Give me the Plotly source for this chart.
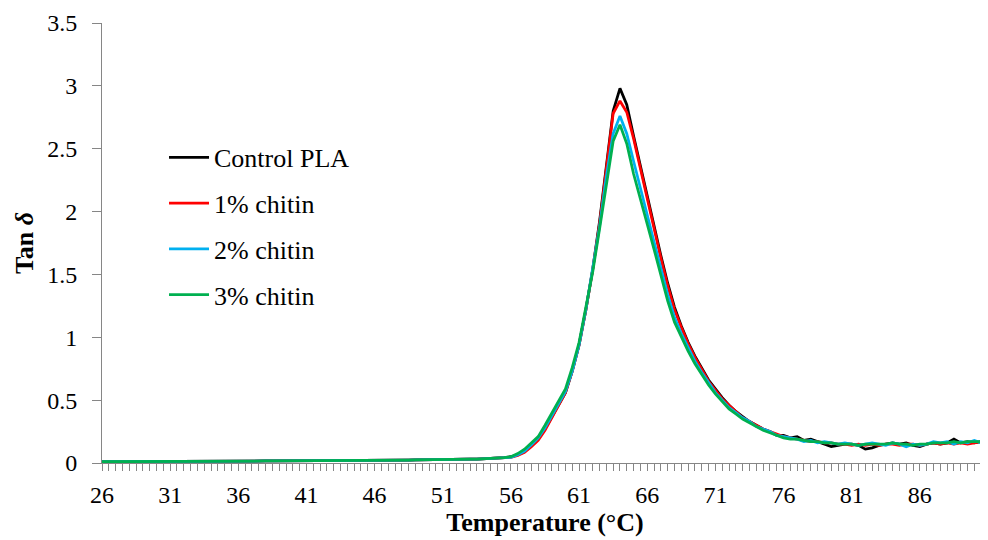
import plotly.graph_objects as go

# ==========================================
# DATA
# ==========================================

# temperature steps (°C), one reading every 0.5 degree
temperature = [
    26.0, 26.5, 27.0, 27.5, 28.0, 28.5, 29.0, 29.5, 30.0, 30.5,
    31.0, 31.5, 32.0, 32.5, 33.0, 33.5, 34.0, 34.5, 35.0, 35.5,
    36.0, 36.5, 37.0, 37.5, 38.0, 38.5, 39.0, 39.5, 40.0, 40.5,
    41.0, 41.5, 42.0, 42.5, 43.0, 43.5, 44.0, 44.5, 45.0, 45.5,
    46.0, 46.5, 47.0, 47.5, 48.0, 48.5, 49.0, 49.5, 50.0, 50.5,
    51.0, 51.5, 52.0, 52.5, 53.0, 53.5, 54.0, 54.5, 55.0, 55.5,
    56.0, 56.5, 57.0, 57.5, 58.0, 58.5, 59.0, 59.5, 60.0, 60.5,
    61.0, 61.5, 62.0, 62.5, 63.0, 63.5, 64.0, 64.5, 65.0, 65.5,
    66.0, 66.5, 67.0, 67.5, 68.0, 68.5, 69.0, 69.5, 70.0, 70.5,
    71.0, 71.5, 72.0, 72.5, 73.0, 73.5, 74.0, 74.5, 75.0, 75.5,
    76.0, 76.5, 77.0, 77.5, 78.0, 78.5, 79.0, 79.5, 80.0, 80.5,
    81.0, 81.5, 82.0, 82.5, 83.0, 83.5, 84.0, 84.5, 85.0, 85.5,
    86.0, 86.5, 87.0, 87.5, 88.0, 88.5, 89.0, 89.5, 90.0, 90.5,
    91.0,
]

# 26 - 55.5 °C, the four samples overlap here
glassy_baseline = [
    0.010, 0.010, 0.011, 0.011, 0.011, 0.012, 0.012, 0.012, 0.012, 0.013,
    0.013, 0.013, 0.013, 0.014, 0.014, 0.014, 0.014, 0.015, 0.015, 0.015,
    0.015, 0.016, 0.016, 0.016, 0.016, 0.017, 0.017, 0.017, 0.018, 0.018,
    0.018, 0.018, 0.019, 0.019, 0.019, 0.020, 0.020, 0.020, 0.021, 0.021,
    0.021, 0.022, 0.022, 0.022, 0.023, 0.023, 0.024, 0.024, 0.025, 0.025,
    0.026, 0.027, 0.028, 0.029, 0.030, 0.031, 0.033, 0.035, 0.038, 0.042,
]

# 56 - 91 °C
control_pla = [
    0.05, 0.065, 0.09, 0.14, 0.19, 0.27, 0.37, 0.46, 0.56, 0.73,
    0.94, 1.22, 1.54, 1.92, 2.38, 2.80, 2.98, 2.85, 2.60, 2.36,
    2.12, 1.88, 1.65, 1.43, 1.24, 1.09, 0.96, 0.85, 0.75, 0.66,
    0.59, 0.52, 0.46, 0.41, 0.37, 0.33, 0.30, 0.27, 0.25, 0.22,
    0.22, 0.20, 0.21, 0.18, 0.19, 0.17, 0.15, 0.13, 0.14, 0.15,
    0.15, 0.14, 0.11, 0.12, 0.14, 0.15, 0.16, 0.15, 0.16, 0.14,
    0.13, 0.15, 0.16, 0.15, 0.16, 0.19, 0.16, 0.17, 0.16, 0.17,
    0.18,
]

chitin_1 = [
    0.045, 0.06, 0.085, 0.13, 0.18, 0.26, 0.36, 0.45, 0.56, 0.73,
    0.94, 1.22, 1.54, 1.90, 2.34, 2.78, 2.88, 2.79, 2.58, 2.34,
    2.10, 1.86, 1.63, 1.41, 1.22, 1.08, 0.95, 0.84, 0.74, 0.65,
    0.58, 0.51, 0.46, 0.41, 0.36, 0.33, 0.30, 0.27, 0.25, 0.23,
    0.21, 0.20, 0.19, 0.18, 0.17, 0.17, 0.16, 0.16, 0.15, 0.15,
    0.14, 0.15, 0.14, 0.15, 0.14, 0.15, 0.15, 0.14, 0.15, 0.15,
    0.14, 0.15, 0.16, 0.15, 0.16, 0.15, 0.16, 0.15, 0.16, 0.17,
    0.18,
]

chitin_2 = [
    0.045, 0.065, 0.095, 0.145, 0.20, 0.28, 0.38, 0.47, 0.57, 0.73,
    0.94, 1.22, 1.54, 1.88, 2.28, 2.62, 2.76, 2.62, 2.40, 2.18,
    1.97, 1.76, 1.55, 1.34, 1.16, 1.03, 0.92, 0.81, 0.72, 0.64,
    0.56, 0.50, 0.44, 0.40, 0.36, 0.33, 0.29, 0.27, 0.25, 0.22,
    0.21, 0.20, 0.19, 0.17, 0.18, 0.16, 0.17, 0.16, 0.15, 0.16,
    0.15, 0.14, 0.15, 0.16, 0.15, 0.14, 0.16, 0.15, 0.13, 0.15,
    0.14, 0.15, 0.17, 0.16, 0.17, 0.15, 0.17, 0.16, 0.18, 0.16,
    0.17,
]

chitin_3 = [
    0.05, 0.075, 0.11, 0.16, 0.21, 0.30, 0.40, 0.49, 0.59, 0.76,
    0.96, 1.24, 1.52, 1.86, 2.20, 2.56, 2.69, 2.54, 2.30, 2.09,
    1.90, 1.70, 1.50, 1.29, 1.12, 1.00, 0.89, 0.79, 0.70, 0.62,
    0.55, 0.49, 0.43, 0.39, 0.35, 0.32, 0.29, 0.26, 0.24, 0.22,
    0.20, 0.19, 0.19, 0.18, 0.17, 0.17, 0.16, 0.16, 0.15, 0.15,
    0.15, 0.14, 0.15, 0.15, 0.15, 0.15, 0.16, 0.15, 0.15, 0.14,
    0.15, 0.15, 0.16, 0.16, 0.16, 0.17, 0.16, 0.17, 0.17, 0.17,
    0.18,
]

series_names = ["Control PLA", "1% chitin", "2% chitin", "3% chitin"]

series_colors = ["#000000", "#FF0000", "#00B0F0", "#00B050"]

x_tick_values = [26, 31, 36, 41, 46, 51, 56, 61, 66, 71, 76, 81, 86]

y_tick_values = [0, 0.5, 1, 1.5, 2, 2.5, 3, 3.5]

y_tick_labels = ["0", "0.5", "1", "1.5", "2", "2.5", "3", "3.5"]

# ==========================================
# FIGURE
# ==========================================

FONT = "Liberation Serif"
AXIS_GREY = "#868686"

fig = go.Figure()

for name, tail, color in zip(
    series_names,
    [control_pla, chitin_1, chitin_2, chitin_3],
    series_colors,
):
    fig.add_trace(
        go.Scatter(
            x=temperature,
            y=glassy_baseline + tail,
            mode="lines",
            name=name,
            legendgroup=name,
            line=dict(color=color, width=2.75),
        )
    )

# the page body adds an 8px margin, so the figure is a bit smaller
fig.update_layout(
    width=980,
    height=532,
    margin=dict(l=94, r=0, t=15, b=77),
    paper_bgcolor="white",
    plot_bgcolor="white",
    font=dict(family=FONT, size=24, color="black"),
    showlegend=True,
    legend=dict(
        x=0.07,
        y=0.748,
        xanchor="left",
        yanchor="top",
        bgcolor="rgba(0,0,0,0)",
        font=dict(family=FONT, size=26, color="black"),
        tracegroupgap=9,
        itemwidth=40,
    ),
)

fig.update_xaxes(
    range=[26, 91],
    tickmode="array",
    tickvals=x_tick_values,
    ticktext=[str(v) for v in x_tick_values],
    ticks="outside",
    ticklen=7,
    tickcolor=AXIS_GREY,
    tickwidth=1,
    ticklabelstandoff=3,
    minor=dict(
        dtick=0.5,
        tick0=26,
        ticks="outside",
        ticklen=7,
        tickcolor=AXIS_GREY,
        tickwidth=1,
        showgrid=False,
    ),
    showline=True,
    linecolor=AXIS_GREY,
    linewidth=1,
    showgrid=False,
    zeroline=False,
    tickfont=dict(family=FONT, size=24, color="black"),
    title=dict(
        text="<b>Temperature (°C)</b>",
        font=dict(family=FONT, size=26, color="black"),
        standoff=1,
    ),
)

fig.update_yaxes(
    range=[0, 3.5],
    tickmode="array",
    tickvals=y_tick_values,
    ticktext=y_tick_labels,
    ticks="outside",
    ticklen=9,
    tickcolor=AXIS_GREY,
    tickwidth=1,
    ticklabelstandoff=10,
    showline=True,
    linecolor=AXIS_GREY,
    linewidth=1,
    showgrid=False,
    zeroline=False,
    tickfont=dict(family=FONT, size=24, color="black"),
    title=dict(
        text="<b>Tan <i>δ</i></b>",
        font=dict(family=FONT, size=26, color="black"),
        standoff=6,
    ),
)

fig.write_html("out.html")
